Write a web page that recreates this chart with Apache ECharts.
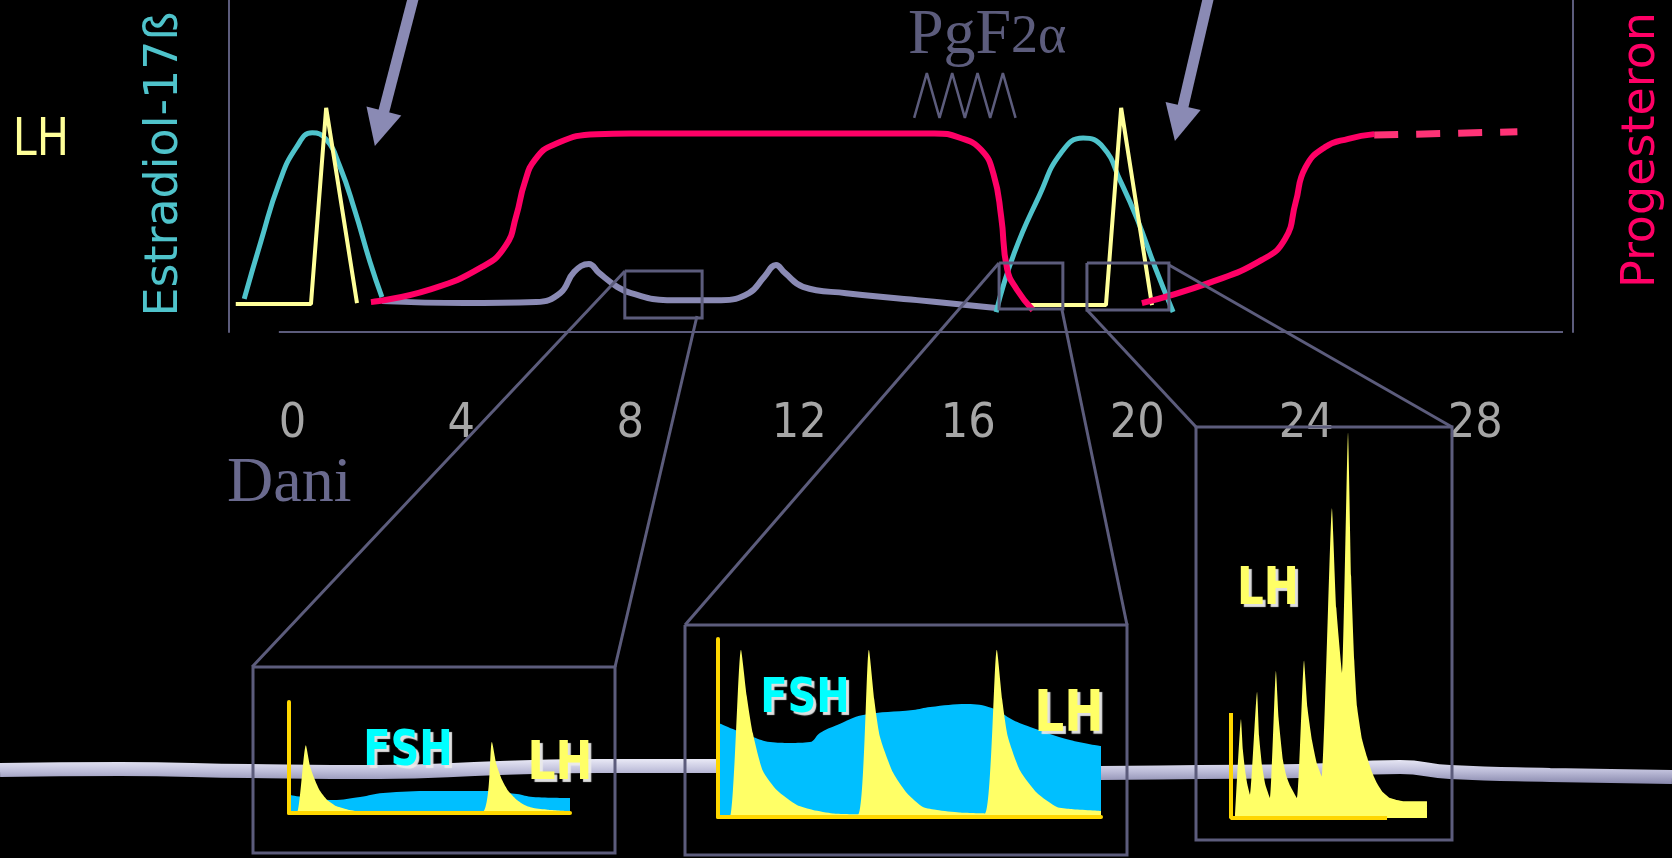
<!DOCTYPE html>
<html><head><meta charset="utf-8">
<script src="https://cdn.jsdelivr.net/npm/echarts@6/dist/echarts.min.js"></script>
<style>html,body{margin:0;padding:0;background:#000}#c{width:1672px;height:858px}</style>
</head><body><div id="c"></div>
<script>
// ---------- main chart (x = days, y = relative level 0..100) ----------
const dayTicks = [0, 4, 8, 12, 16, 20, 24, 28];
const estradiolPeak1 = [[-1.14,10.0],[-0.74,27.5],[-0.31,45.0],[0.09,55.5],[0.47,60.0],[0.80,58.0],[1.12,50.0],[1.48,36.5],[1.84,21.0],[2.12,10.5]];
const estradiolPeak2 = [[16.66,6.0],[17.09,23.8],[17.68,41.0],[18.20,54.0],[18.72,58.4],[19.19,55.7],[19.60,45.5],[20.00,34.0],[20.42,19.6],[20.85,6.0]];
const lhPeak1 = [[-1.34,8.4],[0.44,8.4],[0.80,67.5],[1.53,8.7]];
const lhPeak2 = [[17.46,8.1],[19.26,8.1],[19.62,67.5],[20.35,8.1]];
const progesteron1 = [[1.86,9.0],[3.23,12.7],[4.49,19.6],[5.05,26.0],[5.30,35.0],[5.50,45.0],[5.75,52.0],[6.20,56.5],[7.20,59.6],[8.00,59.8],[15.20,59.8],[15.80,58.5],[16.31,54.8],[16.60,47.5],[16.78,34.7],[16.92,19.0],[17.15,12.8],[17.53,6.6]];
const progesteron2 = [[20.11,8.7],[21.70,14.8],[22.95,21.7],[23.50,28.0],[23.75,39.0],[23.98,49.5],[24.45,55.7],[25.00,58.2],[25.61,59.6]];
const progesteronLater = [[25.61,59.3],[29.00,60.3]];
const baselineCurve = [[2.12,9.3],[4.06,8.7],[5.77,9.0],[6.34,11.7],[6.67,18.1],[7.02,20.5],[7.26,17.8],[7.69,13.6],[8.02,11.7],[8.87,9.6],[10.15,9.6],[10.81,11.7],[11.17,16.6],[11.45,20.2],[11.66,17.8],[12.09,13.6],[13.11,11.7],[14.79,9.6],[16.66,7.2]];
const pgPulses = [[14.72,64.5],[15.02,78],[15.32,64.5],[15.62,78],[15.92,64.5],[16.22,78],[16.52,64.5],[16.82,78],[17.12,64.5]];
const zoomBoxes = [
  [[7.87,18.4],[9.70,18.4],[9.70,4.2],[7.87,4.2],[7.87,18.4]],
  [[16.73,20.8],[18.24,20.8],[18.24,6.9],[16.73,6.9],[16.73,20.8]],
  [[18.81,20.8],[20.75,20.8],[20.75,6.6],[18.81,6.6],[18.81,20.8]]
];
const arrows = [[[2.88,101.5],[2.06,61.3]], [[21.70,101.5],[20.99,62.8]]];
const dayAxisLine = [[-0.32,0],[30.08,0]];

// ---------- insets (x = time, y = level) ----------
const fsh1 = [[0.4,16.2],[15.7,11.7],[25.3,14.4],[33.5,18.0],[51.2,19.8],[69.0,19.8],[81.1,17.1],[86.8,14.4],[100,13.5]];
const lh1 = [[0,0],[2.8,0],[6.0,61],[7.5,42],[9.2,30],[11,20],[13.5,12],[17,6],[21,3],[26,1],[30,0],[68.5,0],[72.2,64],[73.8,44],[75.8,30],[78,20],[81,12],[84,7],[87,4.5],[92,3],[99,1.8]];
const fsh2 = [[0,53],[3.9,49.4],[9.1,44.9],[13.6,42.1],[18.8,41.6],[24,42.1],[26.6,47.2],[31.1,51.7],[37.9,57.3],[50.9,60.1],[55.4,61.8],[65,63.5],[71.5,61.2],[77,54.5],[81.5,50.6],[91.9,43.3],[100,39.9]];
const lh2 = [[0,0],[3.1,0],[6.0,94],[7.5,68],[9.1,47],[11.7,26],[15.4,15],[20.6,6.7],[24.8,3.9],[30,2],[36.6,1.5],[39.4,94],[40.8,66],[42.3,45],[45.7,25],[49.3,13.5],[53.5,5.6],[57.2,3.9],[63,2.5],[69.7,2],[72.8,94],[74.2,66],[75.7,45],[78.9,26],[83.3,13.5],[88.5,5.6],[91.9,4.5],[100,3.4]];
const lh3 = [[2.6,0],[6.4,94],[7.6,65],[9.0,46],[10.5,32],[12.2,22],[16.7,120],[18,78],[19.9,50],[22,32],[25,19],[28.8,140],[30.5,95],[33.3,55],[35.5,40],[37.8,31],[42.3,19],[46.8,150],[49,105],[51.9,74],[55,52],[58.3,39],[64.7,295],[67.5,200],[71.2,138],[75.0,367],[77,230],[79,150],[80.8,106],[84,75],[87.2,58],[90.5,43],[93.6,33],[97,25],[101.9,19],[110.3,16],[125.6,16],[125.6,0]];
const inset3Axes = [[0,100],[0,0],[100,0]];

// ---------- page overlay (x 0..1672, y 0..858 downward) ----------
const connectors = [[[625,271],[252,667]],[[697,316],[615,667]],[[999,263],[685,625]],[[1062,310],[1127,625]],[[1087,310],[1196,427]],[[1169,265],[1452,427]]];
const insetFrames = [
  [[253,667],[615,667],[615,853],[253,853],[253,667]],
  [[685,625],[1127,625],[1127,855],[685,855],[685,625]],
  [[1196,427],[1452,427],[1452,840],[1196,840],[1196,427]]
];
const band = [[0,770],[120,769],[250,771],[380,772],[500,768],[600,766],[700,766],[800,766],[1100,773],[1200,772],[1300,771],[1400,767],[1450,772],[1550,775],[1672,777]];

const FRAME = '#5c5c7c';
const chart = echarts.init(document.getElementById('c'));

function txt(text, x, y, font, fill, extra) {
  const st = {text, font, fill, align:'center', verticalAlign:'middle', textAlign:'center', textVerticalAlign:'middle'};
  if (extra && extra.style) Object.assign(st, extra.style);
  const el = {type:'text', x, y, z:100, style: st};
  if (extra) { for (const k in extra) if (k !== 'style') el[k] = extra[k]; }
  return el;
}
const glow = {textShadowColor:'rgba(235,235,235,0.95)', textShadowOffsetX:3, textShadowOffsetY:3, textShadowBlur:1};

function insetAxis(gi, max, showLine) {
  return {gridIndex:gi, type:'value', min:0, max:max, z:10,
    axisLine:{show:showLine, onZero:false, lineStyle:{color:'#ffd700', width:4}},
    axisTick:{show:false}, axisLabel:{show:false}, splitLine:{show:false}};
}
const plain = {type:'line', showSymbol:false, symbol:'none', clip:false, silent:true};
const hiddenMainY = (pos) => ({gridIndex:0, type:'value', min:0, max:100, position:pos,
  axisLine:{show:true, onZero:false, lineStyle:{color:FRAME, width:2}}, axisTick:{show:false}, axisLabel:{show:false}, splitLine:{show:false}});

chart.setOption({
  backgroundColor:'#000',
  animation:false,
  grid:[
    {left:229, top:0, width:1343.3, height:332, outerBoundsMode:'none'},
    {left:289, top:702, width:281, height:111, outerBoundsMode:'none'},
    {left:718, top:639, width:383, height:178, outerBoundsMode:'none'},
    {left:1231, top:420, width:196.6, height:398, outerBoundsMode:'none'},
    {left:0, top:0, width:1672, height:858, outerBoundsMode:'none'}
  ],
  xAxis:[
    {gridIndex:0, type:'value', min:-1.5, max:30.3,
      axisLine:{show:false}, axisTick:{show:false}, splitLine:{show:false},
      axisLabel:{show:true, customValues:dayTicks, margin:69, color:'#a6a6a6', fontSize:48,
        fontFamily:"'Liberation Sans Narrow','DejaVu Sans Condensed','Liberation Sans',sans-serif"}},
    insetAxis(1, 100, true), insetAxis(2, 100, true), insetAxis(3, 126, false),
    {gridIndex:4, type:'value', min:0, max:1672, show:false}
  ],
  yAxis:[
    hiddenMainY('left'), hiddenMainY('right'),
    insetAxis(1, 100, true), insetAxis(2, 100, true), insetAxis(3, 379, false),
    {gridIndex:4, type:'value', min:0, max:858, inverse:true, show:false}
  ],
  series:[
    // overlay band
    Object.assign({}, plain, {xAxisIndex:4, yAxisIndex:5, data:band, smooth:true, z:1,
      lineStyle:{width:14, color:new echarts.graphic.LinearGradient(0,760,0,783,[{offset:0,color:'#e6e6f4'},{offset:0.5,color:'#bcbcd8'},{offset:1,color:'#8c8cb0'}], true)}}),
    // main chart
    Object.assign({}, plain, {xAxisIndex:0, yAxisIndex:0, data:dayAxisLine, z:3, lineStyle:{color:FRAME, width:2}}),
    {type:'lines', coordinateSystem:'cartesian2d', xAxisIndex:0, yAxisIndex:0, polyline:true, clip:false, silent:true, z:4,
      data:zoomBoxes.map(c=>({coords:c})), lineStyle:{color:FRAME, width:3, opacity:1}},
    Object.assign({}, plain, {xAxisIndex:0, yAxisIndex:0, data:baselineCurve, smooth:0.45, z:3, lineStyle:{color:'#8a8ab4', width:6}}),
    Object.assign({}, plain, {xAxisIndex:0, yAxisIndex:0, data:estradiolPeak1, smooth:0.5, z:3, lineStyle:{color:'#4fc3cb', width:5}}),
    Object.assign({}, plain, {xAxisIndex:0, yAxisIndex:0, data:estradiolPeak2, smooth:0.5, z:3, lineStyle:{color:'#4fc3cb', width:5}}),
    Object.assign({}, plain, {xAxisIndex:0, yAxisIndex:0, data:lhPeak1, z:3, lineStyle:{color:'#ffff99', width:4}}),
    Object.assign({}, plain, {xAxisIndex:0, yAxisIndex:0, data:lhPeak2, z:3, lineStyle:{color:'#ffff99', width:4}}),
    Object.assign({}, plain, {xAxisIndex:0, yAxisIndex:0, data:progesteron1, smooth:0.5, z:3, lineStyle:{color:'#ff0066', width:6}}),
    Object.assign({}, plain, {xAxisIndex:0, yAxisIndex:0, data:progesteron2, smooth:0.5, z:3, lineStyle:{color:'#ff0066', width:6}}),
    Object.assign({}, plain, {xAxisIndex:0, yAxisIndex:0, data:progesteronLater, z:3, lineStyle:{color:'#ff3377', width:7, type:[24,18]}}),
    Object.assign({}, plain, {xAxisIndex:0, yAxisIndex:0, data:pgPulses, z:3, lineStyle:{color:'#5c5c7c', width:2.5}}),
    {type:'lines', coordinateSystem:'cartesian2d', xAxisIndex:0, yAxisIndex:0, clip:false, silent:true, z:6,
      symbol:['none','triangle'], symbolSize:[1,36],
      data:arrows.map(c=>({coords:c})), lineStyle:{color:'#8a8ab4', width:11, opacity:1}},
    // inset 1
    Object.assign({}, plain, {xAxisIndex:1, yAxisIndex:2, data:fsh1, smooth:0.4, z:3, lineStyle:{width:0}, areaStyle:{color:'#00bfff', opacity:1}}),
    Object.assign({}, plain, {xAxisIndex:1, yAxisIndex:2, data:lh1, smooth:0.2, z:4, lineStyle:{width:0}, areaStyle:{color:'#ffff66', opacity:1}}),
    // inset 2
    Object.assign({}, plain, {xAxisIndex:2, yAxisIndex:3, data:fsh2, smooth:0.4, z:3, lineStyle:{width:0}, areaStyle:{color:'#00bfff', opacity:1}}),
    Object.assign({}, plain, {xAxisIndex:2, yAxisIndex:3, data:lh2, smooth:0.2, z:4, lineStyle:{width:0}, areaStyle:{color:'#ffff66', opacity:1}}),
    // inset 3
    Object.assign({}, plain, {xAxisIndex:3, yAxisIndex:4, data:lh3, smooth:0.15, z:4, lineStyle:{width:0}, areaStyle:{color:'#ffff66', opacity:1}}),
    Object.assign({}, plain, {xAxisIndex:3, yAxisIndex:4, data:inset3Axes, z:5, lineStyle:{color:'#ffd700', width:4}}),
    // overlay: connectors and frames
    {type:'lines', coordinateSystem:'cartesian2d', xAxisIndex:4, yAxisIndex:5, clip:false, silent:true, z:5,
      data:connectors.map(c=>({coords:c})), lineStyle:{color:FRAME, width:3, opacity:1}},
    {type:'lines', coordinateSystem:'cartesian2d', xAxisIndex:4, yAxisIndex:5, polyline:true, clip:false, silent:true, z:5,
      data:insetFrames.map(c=>({coords:c})), lineStyle:{color:FRAME, width:3, opacity:1}}
  ],
  graphic:[
    txt('LH', 41, 142, '43px "DejaVu Sans"', '#ffff99', {scaleY:1.2}),
    txt('Estradiol-17ß', 165, 164, '46px "DejaVu Sans"', '#4fc3cb', {rotation:Math.PI/2}),
    txt('Progesteron', 1642, 150, '46px "DejaVu Sans"', '#ff0066', {rotation:Math.PI/2}),
    txt('PgF', 908, 36, '64px "Liberation Serif"', '#5c5c7c', {style:{align:'left', textAlign:'left'}}),
    txt('2α', 1011, 38, '54px "Liberation Serif"', '#5c5c7c', {style:{align:'left', textAlign:'left'}}),
    txt('Dani', 227, 484, '64px "Liberation Serif"', '#6a6a8e', {style:{align:'left', textAlign:'left'}}),
    txt('FSH', 408, 752, 'bold 40px "DejaVu Sans"', '#00ffff', {scaleY:1.25, style:glow}),
    txt('LH', 560, 765, 'bold 44px "DejaVu Sans"', '#ffff66', {scaleY:1.2, style:glow}),
    txt('FSH', 805, 700, 'bold 40px "DejaVu Sans"', '#00ffff', {scaleY:1.2, style:glow}),
    txt('LH', 1069, 716, 'bold 47px "DejaVu Sans"', '#ffff66', {scaleY:1.2, style:glow}),
    txt('LH', 1268, 591, 'bold 42px "DejaVu Sans"', '#ffff66', {scaleY:1.22, style:glow})
  ]
});
</script></body></html>
